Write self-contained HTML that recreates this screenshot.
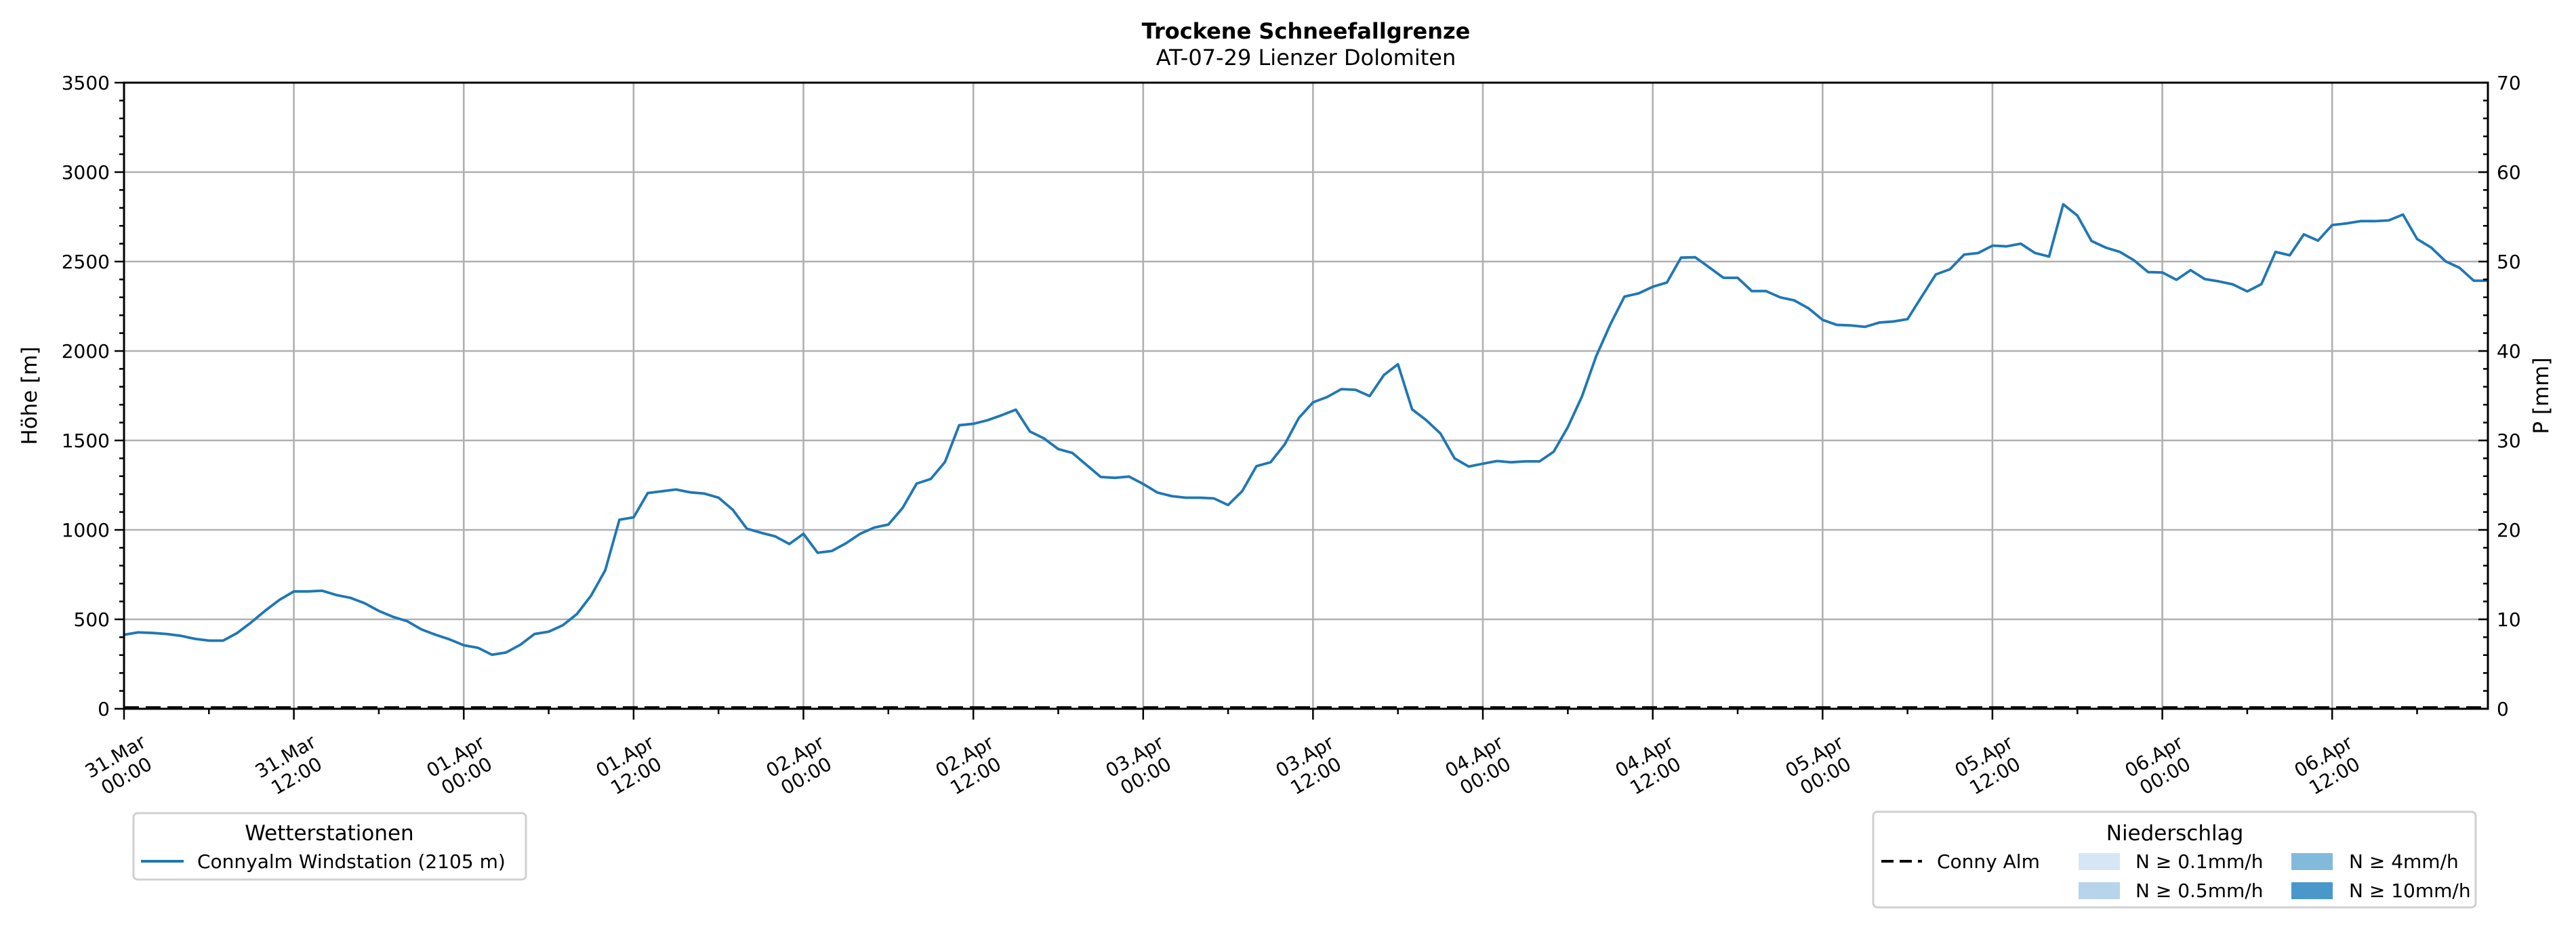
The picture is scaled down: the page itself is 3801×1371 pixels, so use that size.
<!DOCTYPE html>
<html><head><meta charset="utf-8"><style>
html,body{margin:0;padding:0;background:#fff;}
svg{display:block;font-family:"DejaVu Sans","Liberation Sans",sans-serif;}
</style></head><body>
<svg width="3801" height="1371" viewBox="0 0 3801 1371" xmlns="http://www.w3.org/2000/svg">
<rect width="3801" height="1371" fill="#fff"/>
<!-- title -->
<text x="1927" y="57" font-size="32" font-weight="bold" text-anchor="middle">Trockene Schneefallgrenze</text>
<text x="1927" y="96" font-size="32" text-anchor="middle">AT-07-29 Lienzer Dolomiten</text>
<!-- grid -->
<g stroke="#b0b0b0" stroke-width="2.6">
<path d="M183 914H3671M183 782H3671M183 650H3671M183 518H3671M183 386H3671M183 254H3671"/>
<path d="M433.6 122V1046M684.3 122V1046M934.9 122V1046M1185.5 122V1046M1436.2 122V1046M1686.8 122V1046M1937.4 122V1046M2188 122V1046M2438.7 122V1046M2689.3 122V1046M2939.9 122V1046M3190.6 122V1046M3441.2 122V1046"/>
</g>
<!-- zero dashed line -->
<path d="M183 1044H3671" stroke="#000" stroke-width="3.5" stroke-dasharray="22 10"/>
<!-- data -->
<g transform="translate(183,1046) scale(20.886,-0.264)">
<polyline fill="none" stroke="#1f77b4" stroke-width="3.8" vector-effect="non-scaling-stroke" stroke-linejoin="round" points="0,414 1,427 2,424 3,418 4,408 5,391 6,381 7,381 8,424 9,484 10,550 11,610 12,656 13,656 14,660 15,636 16,620 17,590 18,547 19,514 20,490 21,444 22,414 23,388 24,355 25,341 26,302 27,315 28,358 29,418 30,431 31,467 32,530 33,633 34,775 35,1057 36,1070 37,1206 38,1216 39,1226 40,1210 41,1203 42,1180 43,1113 44,1007 45,984 46,964 47,921 48,978 49,872 50,882 51,925 52,978 53,1013 54,1030 55,1122 56,1259 57,1285 58,1380 59,1585 60,1593 61,1613 62,1641 63,1672 64,1550 65,1511 66,1452 67,1430 68,1363 69,1296 70,1291 71,1298 72,1257 73,1209 74,1189 75,1180 76,1180 77,1176 78,1139 79,1217 80,1356 81,1378 82,1478 83,1626 84,1713 85,1743 86,1787 87,1783 88,1748 89,1865 90,1926 91,1674 92,1613 93,1539 94,1400 95,1354 96,1370 97,1385 98,1378 99,1383 100,1383 101,1437 102,1574 103,1746 104,1970 105,2148 106,2304 107,2322 108,2359 109,2383 110,2522 111,2524 112,2467 113,2409 114,2409 115,2335 116,2335 117,2300 118,2283 119,2239 120,2174 121,2146 122,2143 123,2135 124,2159 125,2165 126,2178 127,2304 128,2428 129,2457 130,2539 131,2548 132,2589 133,2585 134,2600 135,2548 136,2528 137,2820 138,2757 139,2615 140,2578 141,2554 142,2507 143,2441 144,2439 145,2398 146,2452 147,2402 148,2389 149,2372 150,2333 151,2374 152,2554 153,2535 154,2652 155,2617 156,2704 157,2713 158,2726 159,2726 160,2730 161,2763 162,2626 163,2578 164,2502 165,2465 166,2393 167,2393"/>
</g>
<!-- spines -->
<rect x="183" y="122" width="3488" height="924" fill="none" stroke="#000" stroke-width="3"/>
<!-- left ticks major -->
<g stroke="#000" stroke-width="2.5">
<path d="M169 1046H183M169 914H183M169 782H183M169 650H183M169 518H183M169 386H183M169 254H183M169 122H183"/>
<path d="M176 1019.6H183M176 993.2H183M176 966.8H183M176 940.4H183M176 887.6H183M176 861.2H183M176 834.8H183M176 808.4H183M176 755.6H183M176 729.2H183M176 702.8H183M176 676.4H183M176 623.6H183M176 597.2H183M176 570.8H183M176 544.4H183M176 491.6H183M176 465.2H183M176 438.8H183M176 412.4H183M176 359.6H183M176 333.2H183M176 306.8H183M176 280.4H183M176 227.6H183M176 201.2H183M176 174.8H183M176 148.4H183"/>
<!-- right ticks inward -->
<path d="M3657 1046H3671M3657 914H3671M3657 782H3671M3657 650H3671M3657 518H3671M3657 386H3671M3657 254H3671M3657 122H3671"/>
<path d="M3664 1019.6H3671M3664 993.2H3671M3664 966.8H3671M3664 940.4H3671M3664 887.6H3671M3664 861.2H3671M3664 834.8H3671M3664 808.4H3671M3664 755.6H3671M3664 729.2H3671M3664 702.8H3671M3664 676.4H3671M3664 623.6H3671M3664 597.2H3671M3664 570.8H3671M3664 544.4H3671M3664 491.6H3671M3664 465.2H3671M3664 438.8H3671M3664 412.4H3671M3664 359.6H3671M3664 333.2H3671M3664 306.8H3671M3664 280.4H3671M3664 227.6H3671M3664 201.2H3671M3664 174.8H3671M3664 148.4H3671"/>
<!-- x ticks -->
<path d="M183 1046V1062M433.6 1046V1062M684.3 1046V1062M934.9 1046V1062M1185.5 1046V1062M1436.2 1046V1062M1686.8 1046V1062M1937.4 1046V1062M2188 1046V1062M2438.7 1046V1062M2689.3 1046V1062M2939.9 1046V1062M3190.6 1046V1062M3441.2 1046V1062"/>
<path d="M308.3 1046V1054M559 1046V1054M809.6 1046V1054M1060.2 1046V1054M1310.8 1046V1054M1561.5 1046V1054M1812.1 1046V1054M2062.7 1046V1054M2313.4 1046V1054M2564 1046V1054M2814.6 1046V1054M3065.3 1046V1054M3315.9 1046V1054M3566.5 1046V1054"/>
</g>
<!-- left tick labels -->
<g font-size="28" text-anchor="end">
<text x="162" y="1056">0</text><text x="162" y="924">500</text><text x="162" y="792">1000</text><text x="162" y="660">1500</text><text x="162" y="528">2000</text><text x="162" y="396">2500</text><text x="162" y="264">3000</text><text x="162" y="132">3500</text>
</g>
<g font-size="28">
<text x="3684" y="1056">0</text><text x="3684" y="924">10</text><text x="3684" y="792">20</text><text x="3684" y="660">30</text><text x="3684" y="528">40</text><text x="3684" y="396">50</text><text x="3684" y="264">60</text><text x="3684" y="132">70</text>
</g>
<text transform="translate(54,584) rotate(-90)" font-size="31" text-anchor="middle">Höhe [m]</text>
<text transform="translate(3760,584) rotate(-90)" font-size="31" text-anchor="middle">P [mm]</text>
<!-- x tick labels -->
<g font-size="28" text-anchor="middle">
<g transform="translate(178,1130) rotate(-30)"><text><tspan x="0" y="-6">31.Mar</tspan><tspan x="0" y="27">00:00</tspan></text></g>
<g transform="translate(429,1130) rotate(-30)"><text><tspan x="0" y="-6">31.Mar</tspan><tspan x="0" y="27">12:00</tspan></text></g>
<g transform="translate(680,1130) rotate(-30)"><text><tspan x="0" y="-6">01.Apr</tspan><tspan x="0" y="27">00:00</tspan></text></g>
<g transform="translate(930,1130) rotate(-30)"><text><tspan x="0" y="-6">01.Apr</tspan><tspan x="0" y="27">12:00</tspan></text></g>
<g transform="translate(1181,1130) rotate(-30)"><text><tspan x="0" y="-6">02.Apr</tspan><tspan x="0" y="27">00:00</tspan></text></g>
<g transform="translate(1431,1130) rotate(-30)"><text><tspan x="0" y="-6">02.Apr</tspan><tspan x="0" y="27">12:00</tspan></text></g>
<g transform="translate(1682,1130) rotate(-30)"><text><tspan x="0" y="-6">03.Apr</tspan><tspan x="0" y="27">00:00</tspan></text></g>
<g transform="translate(1933,1130) rotate(-30)"><text><tspan x="0" y="-6">03.Apr</tspan><tspan x="0" y="27">12:00</tspan></text></g>
<g transform="translate(2183,1130) rotate(-30)"><text><tspan x="0" y="-6">04.Apr</tspan><tspan x="0" y="27">00:00</tspan></text></g>
<g transform="translate(2434,1130) rotate(-30)"><text><tspan x="0" y="-6">04.Apr</tspan><tspan x="0" y="27">12:00</tspan></text></g>
<g transform="translate(2685,1130) rotate(-30)"><text><tspan x="0" y="-6">05.Apr</tspan><tspan x="0" y="27">00:00</tspan></text></g>
<g transform="translate(2935,1130) rotate(-30)"><text><tspan x="0" y="-6">05.Apr</tspan><tspan x="0" y="27">12:00</tspan></text></g>
<g transform="translate(3186,1130) rotate(-30)"><text><tspan x="0" y="-6">06.Apr</tspan><tspan x="0" y="27">00:00</tspan></text></g>
<g transform="translate(3436,1130) rotate(-30)"><text><tspan x="0" y="-6">06.Apr</tspan><tspan x="0" y="27">12:00</tspan></text></g>
</g>
<!-- left legend -->
<rect x="197" y="1200" width="579" height="98" rx="6" fill="#fff" stroke="#d0d0d0" stroke-width="3"/>
<text x="486" y="1240" font-size="31" text-anchor="middle">Wetterstationen</text>
<path d="M208 1271H271" stroke="#1f77b4" stroke-width="4"/>
<text x="291" y="1281" font-size="28">Connyalm Windstation (2105 m)</text>
<!-- right legend -->
<rect x="2764" y="1198" width="889" height="141" rx="6" fill="#fff" stroke="#d0d0d0" stroke-width="3"/>
<text x="3209" y="1240" font-size="31" text-anchor="middle">Niederschlag</text>
<path d="M2776 1271H2836" stroke="#000" stroke-width="4" stroke-dasharray="18 9"/>
<text x="2858" y="1281" font-size="28">Conny Alm</text>
<rect x="3067" y="1259" width="61" height="25" fill="#d6e6f4"/>
<text x="3151" y="1281" font-size="28">N ≥ 0.1mm/h</text>
<rect x="3067" y="1302" width="61" height="25" fill="#b7d4ea"/>
<text x="3151" y="1324" font-size="28">N ≥ 0.5mm/h</text>
<rect x="3381" y="1259" width="61" height="25" fill="#82badb"/>
<text x="3466" y="1281" font-size="28">N ≥ 4mm/h</text>
<rect x="3381" y="1302" width="61" height="25" fill="#4a98c9"/>
<text x="3466" y="1324" font-size="28">N ≥ 10mm/h</text>
</svg>
</body></html>
